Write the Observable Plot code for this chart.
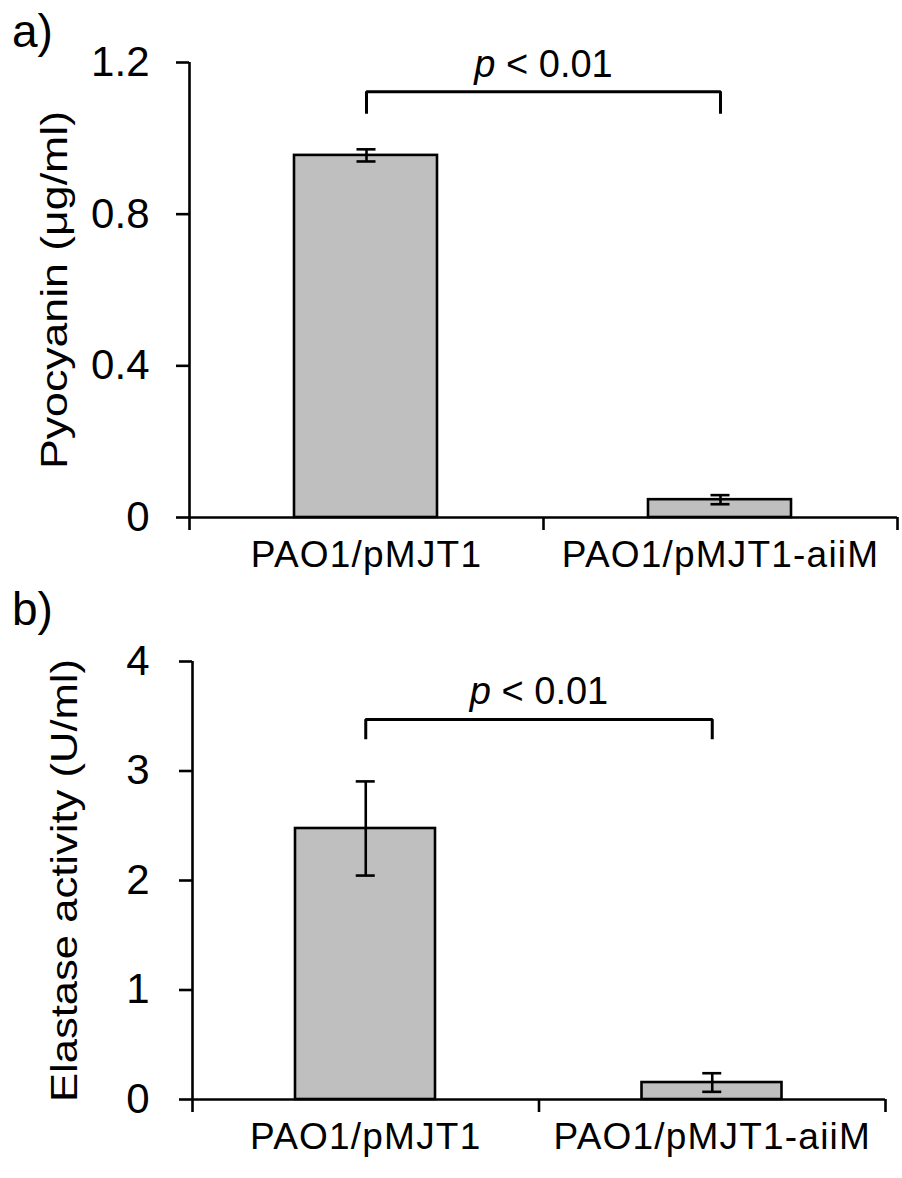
<!DOCTYPE html>
<html>
<head>
<meta charset="utf-8">
<script src="https://cdn.jsdelivr.net/npm/d3@7"></script>
<script src="https://cdn.jsdelivr.net/npm/@observablehq/plot@0.6"></script>
<style>
  html, body { margin: 0; padding: 0; background: #fff; }
  body { width: 902px; height: 1178px; font-family: "Liberation Sans", Arial, sans-serif; }
  .panel { position: absolute; left: 0; width: 902px; }
  .plabel { position: absolute; left: 12px; font-size: 46px; line-height: 1; color: #000; z-index: 2; }
</style>
</head>
<body>
<div id="pa" class="panel" style="top:0px"><div class="plabel" style="top:8px">a)</div></div>
<div id="pb" class="panel" style="top:580px"><div class="plabel" style="top:6px">b)</div></div>
<script>
// ---- data ----
const categories = ["PAO1/pMJT1", "PAO1/pMJT1-aiiM"];
const pyocyanin = [0.955, 0.047];
const pyocyaninErr = [0.016, 0.012];
const elastase = [2.475, 0.155];
const elastaseErr = [0.43, 0.085];
const pyoTicks = [0, 0.4, 0.8, 1.2];
const elaTicks = [0, 1, 2, 3, 4];
const pyoLabel = "Pyocyanin (μg/ml)";
const elaLabel = "Elastase activity (U/ml)";
const sigLabel = "p < 0.01";
const pyoBracket = [1.065, 1.123, 1.163];   // leg bottom, bracket top, text baseline
const elaBracket = [3.29, 3.47, 3.61];

const FONT = '"Liberation Sans", Arial, sans-serif';

function makePanel(opt) {
  const rows = categories.map((c, i) => ({
    cat: c, i, x0: i, x1: i + 1, xc: i + 0.5,
    v: opt.values[i], lo: opt.values[i] - opt.errs[i], hi: opt.values[i] + opt.errs[i]
  }));
  const b = opt.bracket;
  const bracketPts = [
    {x: rows[0].xc, y: b[0]}, {x: rows[0].xc, y: b[1]},
    {x: rows[1].xc, y: b[1]}, {x: rows[1].xc, y: b[0]}
  ];
  const sw = 2.6;
  const svg = Plot.plot({
    width: 902,
    height: opt.height,
    marginTop: opt.mt, marginBottom: opt.mb, marginLeft: opt.ml, marginRight: opt.mr,
    style: {fontFamily: FONT, color: "#000", background: "transparent", overflow: "visible"},
    x: {domain: [0, categories.length], axis: null},
    y: {domain: opt.domain, axis: null},
    marks: [
      Plot.rectY(rows, {x1: "x0", x2: "x1", y: "v", fill: "#bfbfbf", stroke: "#000", strokeWidth: sw,
        insetLeft: opt.insL, insetRight: opt.insR}),
      Plot.ruleX(rows, {x: "xc", y1: "lo", y2: "hi", stroke: "#000", strokeWidth: sw}),
      Plot.ruleY(rows, {x1: "xc", x2: "xc", y: "lo", stroke: "#000", strokeWidth: sw, insetLeft: -9.5, insetRight: -9.5}),
      Plot.ruleY(rows, {x1: "xc", x2: "xc", y: "hi", stroke: "#000", strokeWidth: sw, insetLeft: -9.5, insetRight: -9.5}),
      Plot.ruleX([0], {stroke: "#000", strokeWidth: sw}),
      Plot.ruleY([0], {stroke: "#000", strokeWidth: sw}),
      Plot.axisY({ticks: opt.ticks, tickSize: 13, tickPadding: opt.tp, strokeWidth: sw, stroke: "#000",
        tickFormat: d => d === 0 ? "0" : (Number.isInteger(opt.ticks[1]) ? String(d) : d.toFixed(1)),
        fontSize: 42, label: opt.label, labelAnchor: "center", labelOffset: opt.lo, labelArrow: "none"}),
      Plot.axisX({ticks: d3.range(categories.length + 1), tickSize: 13, strokeWidth: sw, stroke: "#000",
        tickFormat: () => "", label: null}),
      Plot.axisX({ticks: rows.map(r => r.xc), tickSize: 0, tickPadding: 23, fontSize: 37,
        tickFormat: d => categories[Math.floor(d)], label: null}),
      Plot.line(bracketPts, {x: "x", y: "y", stroke: "#000", strokeWidth: 3, strokeLinejoin: "miter", strokeLinecap: "butt"}),
      Plot.text([sigLabel], {x: (rows[0].xc + rows[1].xc) / 2, y: b[2], text: d => d, fontSize: 38, lineAnchor: "bottom", textAnchor: "middle"})
    ]
  });
  // italic p in significance label
  svg.querySelectorAll('g[aria-label="text"] text').forEach(t => {
    const s = t.textContent;
    if (s === sigLabel) {
      t.textContent = "";
      const ns = "http://www.w3.org/2000/svg";
      const a = document.createElementNS(ns, "tspan");
      a.setAttribute("font-style", "italic");
      a.textContent = s.slice(0, 1);
      const r = document.createElementNS(ns, "tspan");
      r.textContent = s.slice(1);
      t.appendChild(a); t.appendChild(r);
    }
  });
  svg.querySelectorAll('g[aria-label="x-axis tick label"] text').forEach(t => t.setAttribute("letter-spacing", "1.2"));
  svg.querySelectorAll('g[aria-label="y-axis label"] text').forEach(t => {
    t.setAttribute("font-size", "37");
    t.setAttribute("textLength", opt.labelLen);
    t.setAttribute("lengthAdjust", "spacingAndGlyphs");
  });
  svg.style.position = "absolute";
  svg.style.left = "0px";
  svg.style.top = "0px";
  return svg;
}

document.getElementById("pa").appendChild(makePanel({
  values: pyocyanin, errs: pyocyaninErr, domain: [0, 1.2], ticks: pyoTicks, label: pyoLabel,
  bracket: pyoBracket, height: 580, mt: 62, mb: 63, ml: 189, mr: 5, insL: 105, insR: 106,
  tp: 27, lo: 149, labelLen: 358
}));
document.getElementById("pb").appendChild(makePanel({
  values: elastase, errs: elastaseErr, domain: [0, 4], ticks: elaTicks, label: elaLabel,
  bracket: elaBracket, height: 598, mt: 81, mb: 79, ml: 192, mr: 17, insL: 103, insR: 103.5,
  tp: 30, lo: 142, labelLen: 443
}));
</script>
</body>
</html>
